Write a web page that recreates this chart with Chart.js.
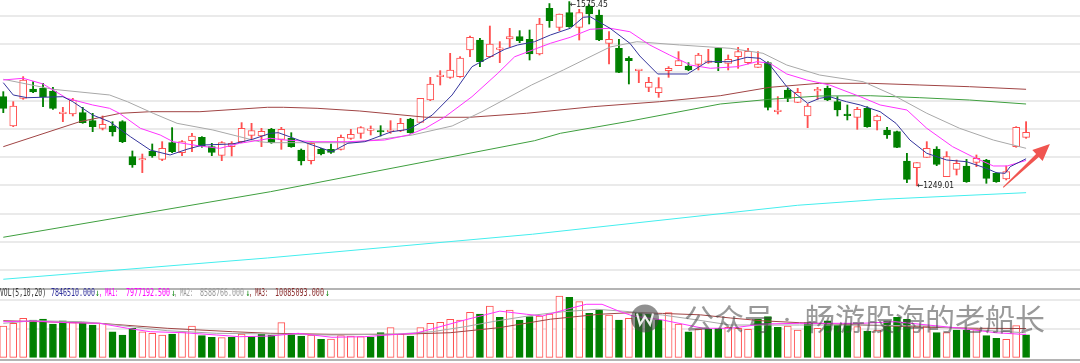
<!DOCTYPE html>
<html><head><meta charset="utf-8">
<script src="https://cdn.jsdelivr.net/npm/chart.js@4.4.1/dist/chart.umd.min.js"></script>
<style>
html,body{margin:0;padding:0;background:#fff;width:1080px;height:363px;overflow:hidden;}
canvas{position:absolute;left:0;}
#main{top:0;}
#vol{top:288px;}
</style></head><body>
<canvas id="main" width="1080" height="288"></canvas>
<canvas id="vol" width="1080" height="75"></canvas>
<script>
// ---------- DATA ----------
const openP = [1407.0,1355.1,1404.1,1420.6,1421.8,1417.1,1376.9,1376.3,1378.7,1364.5,
1350.9,1355.1,1362.7,1300.7,1294.8,1310.8,1296.0,1325.5,1307.8,1329.1,
1335.0,1318.4,1303.1,1318.4,1327.3,1338.5,1337.3,1349.1,1331.4,1333.2,
1312.5,1293.6,1314.3,1313.7,1313.7,1333.2,1342.1,1347.4,1345.6,1345.0,
1346.2,1367.5,1361.5,1401.1,1442.5,1441.3,1442.5,1489.7,1507.4,1477.9,
1490.9,1509.2,1513.3,1508.6,1482.6,1563.5,1529.9,1555.9,1529.9,1567.7,
1551.7,1501.5,1492.7,1474.9,1453.1,1423.6,1414.1,1453.1,1462.0,1461.4,
1464.3,1467.9,1492.7,1466.1,1477.9,1467.3,1459.0,1467.3,1380.5,1418.8,
1397.0,1372.8,1417.1,1421.8,1398.2,1374.5,1370.4,1386.4,1363.9,1348.0,
1345.0,1293.0,1281.2,1299.5,1314.3,1265.3,1278.3,1284.2,1290.7,1294.8,
1271.2,1261.1,1318.4,1335.0];
const highP = [1415.9,1398.2,1442.5,1433.6,1430.6,1423.6,1388.1,1404.1,1388.1,1377.5,
1372.8,1362.7,1364.5,1310.8,1305.4,1323.2,1327.3,1352.1,1329.1,1342.1,
1336.2,1324.3,1327.3,1327.3,1361.0,1359.8,1350.9,1350.9,1352.7,1343.2,
1314.3,1325.5,1315.5,1323.2,1339.1,1349.1,1353.9,1355.1,1355.6,1364.5,
1368.6,1368.6,1404.1,1441.3,1453.1,1483.8,1477.9,1514.5,1510.4,1532.2,
1504.5,1528.1,1524.0,1525.1,1545.8,1572.0,1553.5,1575.45,1561.8,1570.0,
1560.6,1522.2,1508.6,1477.9,1454.3,1441.3,1440.7,1460.2,1486.8,1467.3,
1483.8,1490.9,1492.7,1480.9,1494.4,1492.7,1486.8,1469.0,1407.0,1421.8,
1421.8,1394.0,1423.6,1425.9,1407.0,1392.3,1388.1,1389.3,1374.5,1352.7,
1346.2,1306.6,1290.1,1327.3,1318.4,1309.6,1294.8,1296.0,1303.7,1296.0,
1272.4,1284.2,1353.9,1362.7];
const lowP = [1378.7,1353.9,1402.3,1414.1,1389.3,1384.6,1362.7,1372.8,1359.8,1345.0,
1348.0,1337.3,1325.5,1281.8,1272.4,1299.5,1293.6,1307.8,1302.5,1309.6,
1317.3,1302.5,1293.6,1301.9,1325.5,1330.2,1318.4,1324.3,1313.7,1317.3,
1286.0,1287.7,1303.7,1306.6,1312.5,1331.4,1333.2,1339.1,1337.3,1342.1,
1345.0,1342.1,1361.0,1399.9,1427.7,1439.5,1441.3,1477.9,1460.2,1476.7,
1467.3,1495.6,1502.7,1472.0,1480.9,1529.9,1524.0,1529.9,1507.4,1535.8,
1506.2,1464.9,1449.5,1429.5,1431.8,1415.9,1405.8,1441.3,1462.0,1453.1,
1454.3,1466.1,1453.1,1454.3,1457.2,1464.9,1459.0,1383.4,1376.3,1398.2,
1396.4,1352.1,1402.3,1399.9,1372.8,1365.7,1349.1,1352.7,1348.0,1333.2,
1316.7,1254.7,1249.01,1299.5,1284.8,1265.3,1268.2,1255.2,1283.0,1253.5,
1255.2,1259.4,1317.3,1333.2];
const closeP = [1386.4,1390.5,1436.6,1415.3,1407.0,1386.4,1379.3,1401.1,1361.0,1353.9,
1358.0,1345.0,1327.3,1286.0,1296.0,1301.9,1315.5,1309.6,1327.3,1337.3,
1319.6,1308.4,1325.5,1324.3,1350.9,1346.8,1345.6,1325.5,1349.1,1318.4,
1293.0,1324.3,1305.4,1308.4,1335.0,1340.3,1352.1,1348.6,1344.4,1346.2,
1359.8,1343.2,1404.1,1429.5,1443.6,1454.3,1475.5,1512.2,1469.0,1500.3,
1492.7,1513.3,1506.2,1482.6,1535.8,1541.7,1553.5,1531.1,1555.9,1553.5,
1507.4,1508.6,1450.1,1470.8,1454.3,1432.4,1423.0,1457.2,1470.8,1454.3,
1480.9,1469.0,1467.3,1473.2,1486.8,1487.4,1464.9,1388.1,1381.6,1404.1,
1414.7,1390.5,1420.0,1401.1,1383.4,1373.4,1384.6,1353.9,1372.8,1339.1,
1317.3,1260.6,1290.1,1315.5,1287.1,1300.7,1288.9,1256.4,1297.8,1262.3,
1256.4,1274.1,1352.7,1343.8];
// volume, millions of shares
const volume = [10.98,11.93,13.68,13.09,13.44,11.68,12.84,12.14,11.93,11.33,
11.93,8.98,7.82,10.18,8.98,8.42,7.82,8.18,8.98,10.98,
7.58,7.02,6.88,7.02,8.18,7.23,8.07,7.82,12.14,8.42,
7.47,7.82,6.32,6.42,7.58,7.47,7.23,7.02,8.63,10.39,
8.07,7.47,10.39,11.93,12.28,13.33,13.09,15.79,15.19,18.00,
14.04,16.60,13.09,14.25,14.49,15.19,21.51,21.05,19.51,15.44,
16.60,14.84,13.09,13.68,15.65,15.19,13.09,15.65,11.68,8.98,
9.82,9.82,10.18,10.53,10.18,9.82,13.33,14.25,10.53,10.98,
9.58,12.14,10.18,12.84,11.33,11.93,10.74,9.23,9.58,12.84,
14.04,13.33,10.98,10.98,8.63,8.63,9.58,9.58,9.82,7.58,
6.67,6.32,11.09,7.8465];
// 1 = red (up) volume bar, 0 = green
const volUp = [1,1,1,0,0,0,0,1,0,0, 1,0,0,0,1,1,1,0,1,1, 0,0,1,0,1,0,0,0,1,0,
0,1,0,1,1,1,1,0,0,1, 1,0,1,1,1,1,1,1,0,1, 0,1,0,0,1,1,1,0,1,0,
0,1,0,1,0,0,0,1,1,0, 1,0,0,1,1,1,0,0,0,1, 1,0,1,0,0,0,1,0,1,0,
0,0,1,1,0,1,0,0,1,0, 0,1,1,0];
// moving averages, [candle index, value]
const ma5 = [[0,1431.8],[1,1410.0],[2.4,1405.2],[6,1407.0],[7,1398.1],[9,1374.5],[10.7,1362.7],[12.8,1336.1],[14.8,1312.5],[16.8,1303.7],[18.5,1313.8],[20.1,1321.4],[23.1,1323.2],[25.1,1331.5],[26.9,1342.1],[27.7,1343.2],[29.1,1334.3],[31.1,1321.4],[33.1,1309.5],[34.7,1324.4],[36.4,1327.2],[39.1,1344.9],[40.8,1349.2],[41.8,1358.6],[43.2,1374.5],[45.2,1410.0],[47.2,1460.1],[49.2,1479.1],[50.5,1491.0],[51.8,1498.6],[53.5,1504.4],[55.1,1516.3],[57.1,1528.2],[58.4,1547.6],[59.1,1548.7],[61.1,1528.2],[63.1,1501.6],[64.1,1479.1],[65.9,1447.2],[67.1,1447.2],[68.9,1447.2],[70.9,1469.0],[73.2,1469.0],[74.9,1476.8],[76.2,1475.0],[77.2,1463.1],[78.9,1424.7],[81.0,1395.3],[82.2,1404.1],[83.2,1407.0],[84.9,1398.1],[86.3,1392.3],[88.3,1380.4],[89.9,1359.8],[91.3,1330.2],[93.0,1306.7],[95.0,1294.8],[97.0,1291.8],[99.0,1280.1],[100.0,1272.3],[100.9,1271.2],[101.4,1283.0],[103,1297.0]];
const ma10 = [[0,1436.6],[2,1439.6],[4,1429.5],[6.4,1404.1],[9,1392.3],[10.7,1386.4],[11.7,1377.5],[13.8,1351.0],[15.8,1339.1],[17.1,1327.2],[19.8,1319.6],[21.8,1315.5],[23.8,1324.4],[25.9,1330.2],[26.9,1333.3],[28.4,1330.2],[31.4,1327.2],[34.7,1327.2],[38.4,1330.2],[40.8,1339.1],[42.5,1351.0],[44.5,1371.5],[47.2,1407.0],[49.8,1448.4],[51.5,1477.8],[53.5,1491.0],[55.1,1501.6],[57.1,1512.2],[59.1,1526.4],[61.1,1528.2],[63.1,1522.1],[65.1,1498.6],[67.1,1480.8],[69.2,1463.1],[71.2,1457.3],[73.9,1460.1],[75.9,1469.0],[77.2,1466.1],[78.9,1447.2],[80.9,1436.6],[83.2,1427.7],[86.3,1407.0],[88.3,1392.3],[91.0,1383.4],[93.0,1351.0],[95.6,1318.4],[97.6,1300.7],[99.7,1284.2],[101.1,1284.2],[103,1294.0]];
const ma20 = [[0,1437.8],[5,1420.1],[10.7,1410.0],[12.5,1398.1],[15.1,1377.5],[17.5,1359.8],[21.1,1348.0],[23.8,1336.1],[25.8,1327.2],[26.9,1325.5],[34.7,1325.5],[37.4,1330.2],[41.2,1339.1],[45.2,1355.1],[48.2,1380.4],[53.2,1427.7],[56.4,1454.3],[61.1,1495.0],[63.8,1504.4],[68.1,1498.6],[73.2,1492.7],[76.5,1483.9],[78.9,1463.1],[82.2,1445.4],[86.6,1433.5],[89.6,1410.0],[93.0,1377.6],[96.3,1351.0],[99.7,1330.2],[103,1315.5]];
const ma60 = [[0,1318.4],[7.7,1362.7],[11.8,1377.6],[14.8,1380.4],[19.8,1380.4],[26.6,1388.2],[28.2,1388.2],[31.6,1386.4],[35.9,1381.6],[42.6,1370.5],[47.0,1370.5],[52.7,1377.6],[59.4,1389.3],[66.1,1398.1],[72.2,1408.7],[77.2,1423.6],[82.2,1430.7],[87.3,1430.7],[92.3,1427.7],[97.3,1424.7],[103,1420.1]];
const ma120 = [[0,1157.9],[26.9,1238.6],[35.9,1269.3],[46.0,1303.5],[53.5,1329.0],[56.1,1342.1],[62.8,1362.7],[72.2,1394.0],[77.2,1402.4],[82.2,1408.2],[87.3,1408.7],[92.3,1405.2],[97.3,1401.1],[103,1394.0]];
const ma250 = [[0,1083.5],[26.6,1121.2],[53.3,1163.3],[80.0,1214.6],[88.5,1225.2],[103,1236.9]];
// volume moving averages (millions)
const vma5 = [[0,12.49],[3,12.74],[6.4,12.14],[9.7,11.93],[12.5,10.18],[14.8,8.98],[18.1,8.63],[21.5,7.82],[23.8,7.23],[26.9,7.47],[29.7,8.42],[33.1,7.02],[36.4,7.23],[39.7,8.07],[41.5,8.42],[43.2,10.0],[46.7,13.3],[50.0,16.2],[52.7,15.1],[54.3,14.5],[56.7,16.8],[58.7,18.6],[60.3,18.6],[62.0,16.2],[63.4,14.5],[66.4,13.09],[70.5,10.18],[73.2,10.18],[76.5,11.68],[80.2,11.93],[86.5,11.93],[89.8,12.49],[93.1,11.33],[96.5,10.18],[99.9,8.63],[103,7.977]];
const vma10 = [[0,11.93],[3,12.84],[8,12.49],[11.4,11.33],[16.5,9.33],[21.5,8.42],[26.9,8.18],[33.1,7.82],[39.7,8.18],[43.2,8.98],[46.5,10.74],[49.8,12.84],[53.5,14.84],[56.4,16.0],[59.8,16.84],[63.1,16.0],[66.4,14.84],[69.9,13.09],[73.2,11.33],[80.2,11.33],[86.5,11.33],[93.1,10.98],[98.2,9.58],[103,8.589]];
const vma20 = [[0,12.84],[9.7,11.93],[16.5,10.18],[23.1,8.98],[26.9,8.42],[33.1,8.07],[40.0,8.07],[45.0,8.63],[50.0,10.42],[55.1,13.37],[60.1,15.12],[63.4,15.68],[66.4,15.4],[70.2,14.9],[73.2,13.8],[76.5,12.8],[80.2,12.14],[86.5,11.33],[93.1,10.53],[98.2,10.18],[103,10.085]];
const priceGrid = [1100,1150,1200,1250,1300,1350,1400,1450,1500,1550];
const volGrid = [10,20];
const volHeaderVals = [7846510.000, 7977192.500, 8588766.000, 10085093.000];
const trendArrow = [[100.7,1246.4],[105.4,1323.2]]; // tail, tip
const watermark = ['公众号', '畅游股海的老船长'];

// ---------- RENDER ----------
const RED = '#ff4f4f', GREEN = '#008000';
const X_MIN = -0.332, X_MAX = 108.43;
const up = openP.map((o,i)=>closeP[i] >= o);
const xy = a => a.map(p=>({x:p[0], y:p[1]}));
const lineDs = (arr,color,w) => ({type:'line', data:xy(arr), borderColor:color, borderWidth:w||1, pointRadius:0, tension:0, order:0});

const mainGrid = {
  id:'mainGrid',
  beforeDatasetsDraw(chart){
    const {ctx, chartArea:a, scales:{y}} = chart;
    ctx.save(); ctx.strokeStyle='#e3e3e3'; ctx.lineWidth=1.5;
    priceGrid.forEach(v=>{const py=Math.round(y.getPixelForValue(v)); ctx.beginPath(); ctx.moveTo(a.left,py); ctx.lineTo(a.right,py); ctx.stroke();});
    ctx.restore();
  }
};
const mainAnnot = {
  id:'mainAnnot',
  afterDatasetsDraw(chart){
    const {ctx, scales:{x,y}} = chart;
    ctx.save();
    let hi=0, lo=0;
    highP.forEach((v,i)=>{ if(v>highP[hi]) hi=i; });
    lowP.forEach((v,i)=>{ if(v<lowP[lo]) lo=i; });
    ctx.font = '9px "DejaVu Sans"'; ctx.fillStyle='#222'; ctx.textBaseline='middle'; ctx.textAlign='left';
    ctx.fillText('\u2190'+highP[hi].toFixed(2), x.getPixelForValue(hi)+0.5, y.getPixelForValue(highP[hi])+2.6, 38);
    ctx.fillText('\u2190'+lowP[lo].toFixed(2), x.getPixelForValue(lo)+0.2, y.getPixelForValue(lowP[lo])-0.4, 37);
    const x1=x.getPixelForValue(trendArrow[0][0]), y1=y.getPixelForValue(trendArrow[0][1]);
    const x2=x.getPixelForValue(trendArrow[1][0]), y2=y.getPixelForValue(trendArrow[1][1]);
    const dx=x2-x1, dy=y2-y1, len=Math.hypot(dx,dy), ux=dx/len, uy=dy/len, nx=-uy, ny=ux;
    const hl=17, hw=7.6, bx=x2-ux*hl, by=y2-uy*hl;
    ctx.fillStyle='#f05550';
    ctx.beginPath();
    ctx.moveTo(x1+nx*0.5,y1+ny*0.5);
    ctx.lineTo(bx+nx*2.0,by+ny*2.0);
    ctx.lineTo(bx+nx*hw,by+ny*hw);
    ctx.lineTo(x2,y2);
    ctx.lineTo(bx-nx*hw,by-ny*hw);
    ctx.lineTo(bx-nx*2.0,by-ny*2.0);
    ctx.lineTo(x1-nx*0.5,y1-ny*0.5);
    ctx.closePath(); ctx.fill();
    ctx.restore();
  }
};

new Chart(document.getElementById('main'), {
  type:'bar',
  data:{datasets:[
    lineDs(ma5,'#34349c'),
    lineDs(ma10,'#ff33ff'),
    lineDs(ma20,'#a8a8a8'),
    lineDs(ma60,'#a04444'),
    lineDs(ma120,'#3f9f3f'),
    lineDs(ma250,'#44eeee'),
    {label:'body', data: openP.map((o,i)=>({x:i, y:[Math.min(o,closeP[i]), Math.max(o,closeP[i])]})),
     backgroundColor: up.map(u=>u?'#ffffff':GREEN), borderColor: up.map(u=>u?RED:GREEN),
     borderWidth:1, borderSkipped:false, barThickness:7, grouped:false, minBarLength:1.5, order:5},
    {label:'wick', data: openP.map((o,i)=>({x:i, y:[lowP[i], highP[i]]})),
     backgroundColor: up.map(u=>u?RED:GREEN), borderWidth:0, barThickness:1.2, grouped:false, order:6}
  ]},
  options:{
    responsive:false, animation:false, events:[],
    layout:{padding:0},
    plugins:{legend:{display:false}, tooltip:{enabled:false}},
    scales:{
      x:{type:'linear', min:X_MIN, max:X_MAX, display:false, offset:false},
      y:{type:'linear', min:1068.0, max:1578.3, display:false, beginAtZero:false}
    }
  },
  plugins:[mainGrid, mainAnnot]
});

const volDeco = {
  id:'volDeco',
  beforeDatasetsDraw(chart){
    const {ctx, chartArea:a, scales:{y}} = chart;
    ctx.save();
    ctx.strokeStyle='#e3e3e3'; ctx.lineWidth=1.5;
    volGrid.forEach(v=>{const py=Math.round(y.getPixelForValue(v)); ctx.beginPath(); ctx.moveTo(a.left,py); ctx.lineTo(a.right,py); ctx.stroke();});
    ctx.strokeStyle='#b4b4b4'; ctx.lineWidth=2;
    ctx.beginPath(); ctx.moveTo(a.left,1); ctx.lineTo(a.right,1); ctx.stroke();
    const pb = Math.round(y.getPixelForValue(-0.95));
    ctx.beginPath(); ctx.moveTo(a.left,pb); ctx.lineTo(a.right,pb); ctx.stroke();
    ctx.restore();
  },
  afterDraw(chart){
    const {ctx} = chart;
    ctx.save();
    ctx.textBaseline='middle'; ctx.textAlign='left';
    ctx.font='10px "DejaVu Sans Mono"';
    const f = v => v.toFixed(3);
    const segs = [
      ['VOL(5,10,20)',0,46,'#333333'],
      [f(volHeaderVals[0]),51,44,'#2c2c9a'],
      ['\u2193',95,4.5,GREEN],
      [', MA1:',99,19,'#ff00ff'],
      [f(volHeaderVals[1]),126,44,'#ff00ff'],
      ['\u2193',171,4.5,GREEN],
      [', MA2:',174,19,'#9a9a9a'],
      [f(volHeaderVals[2]),200,44,'#9a9a9a'],
      ['\u2193',245.5,4.5,GREEN],
      [', MA3:',249,19,'#8b2d2d'],
      [f(volHeaderVals[3]),275,49,'#8b2d2d'],
      ['\u2193',325,4.5,GREEN]
    ];
    segs.forEach(s=>{ctx.fillStyle=s[3]; ctx.fillText(s[0], s[1], 5, s[2]);});
    // watermark
    const cy = 30.5;
    ctx.fillStyle='rgba(70,70,70,0.6)';
    ctx.beginPath(); ctx.arc(645, cy, 14, 0, Math.PI*2); ctx.fill();
    ctx.strokeStyle='rgba(255,255,255,0.9)'; ctx.lineWidth=2.2;
    ctx.beginPath(); ctx.moveTo(637,cy-5); ctx.lineTo(640,cy+6); ctx.lineTo(645,cy-2); ctx.lineTo(650,cy+6); ctx.lineTo(653,cy-5); ctx.stroke();
    ctx.fillStyle='rgba(70,70,70,0.55)';
    ctx.font='30px "Noto Sans CJK SC"';
    ctx.fillText(watermark[0], 684, cy);
    ctx.beginPath(); ctx.arc(787, cy+1, 1.8, 0, Math.PI*2); ctx.fill();
    ctx.fillText(watermark[1], 805, cy);
    ctx.restore();
  }
};

new Chart(document.getElementById('vol'), {
  type:'bar',
  data:{datasets:[
    lineDs(vma5,'#ff33ff'),
    lineDs(vma10,'#a8a8a8'),
    lineDs(vma20,'#a04444'),
    {label:'vol', data: volume.map((v,i)=>({x:i, y:[0,v]})),
     backgroundColor: volUp.map(u=>u?'#ffffff':GREEN), borderColor: volUp.map(u=>u?RED:GREEN),
     borderWidth:1, borderSkipped:false, barThickness:7, grouped:false, order:5}
  ]},
  options:{
    responsive:false, animation:false, events:[],
    layout:{padding:0},
    plugins:{legend:{display:false}, tooltip:{enabled:false}},
    scales:{
      x:{type:'linear', min:X_MIN, max:X_MAX, display:false, offset:false},
      y:{type:'linear', min:-2.0, max:24.316, display:false, beginAtZero:false}
    }
  },
  plugins:[volDeco]
});
</script>
</body></html>
